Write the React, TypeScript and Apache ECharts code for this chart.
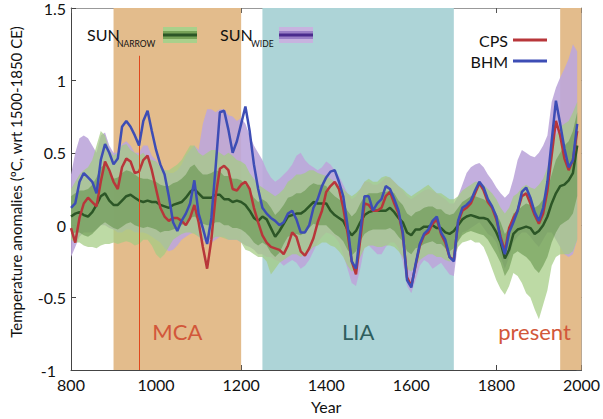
import React, { useEffect, useRef } from "react";
import * as echarts from "echarts";

// sample years (10-year steps, 800..1990)
const years: number[] = Array.from({ length: 120 }, (_, i) => 800 + i * 10);

const bhm = [
  0.12, 0.15, 0.30, 0.36, 0.33, 0.30, 0.22, 0.45, 0.56, 0.50,
  0.42, 0.46, 0.68, 0.72, 0.68, 0.62, 0.55, 0.72, 0.79, 0.65,
  0.52, 0.42, 0.35, 0.20, 0.02, -0.04, 0.03, 0.08, 0.15, 0.31,
  0.08, -0.02, -0.13, 0.05, 0.40, 0.78, 0.79, 0.66, 0.50, 0.58,
  0.70, 0.82, 0.65, 0.42, 0.25, 0.12, 0.08, 0.05, 0.03, 0.00,
  0.02, 0.08, 0.10, 0.04, -0.05, -0.05, 0.00, 0.12, 0.18, 0.27,
  0.33, 0.37, 0.38, 0.30, 0.20, 0.00, -0.25, -0.30, -0.05, 0.20,
  0.20, 0.10, 0.15, 0.18, 0.27, 0.25, 0.18, 0.10, -0.05, -0.38,
  -0.43, -0.27, -0.13, -0.06, -0.03, 0.03, 0.06, -0.05, -0.10, -0.22,
  -0.25, 0.03, 0.12, 0.14, 0.17, 0.24, 0.30, 0.26, 0.18, 0.13,
  0.06, -0.10, -0.20, -0.05, 0.02, 0.10, 0.23, 0.26, 0.19, 0.09,
  0.03, 0.12, 0.30, 0.58, 0.86, 0.70, 0.53, 0.40, 0.45, 0.70,
];

const cps = [
  -0.02, -0.12, 0.05, 0.15, 0.19, 0.16, 0.13, 0.30, 0.44, 0.38,
  0.30, 0.25, 0.40, 0.46, 0.44, 0.36, 0.37, 0.45, 0.48, 0.38,
  0.25, 0.12, 0.06, 0.03, 0.05, 0.05, 0.03, 0.00, 0.05, 0.14,
  0.02, -0.15, -0.30, -0.10, 0.20, 0.39, 0.41, 0.38, 0.25, 0.24,
  0.28, 0.30, 0.25, 0.12, 0.02, -0.07, -0.12, -0.15, -0.16, -0.17,
  -0.20, -0.14, -0.05, -0.08, -0.18, -0.21, -0.16, -0.09, 0.02, 0.10,
  0.23, 0.27, 0.30, 0.25, 0.12, -0.05, -0.25, -0.34, -0.10, 0.15,
  0.14, 0.10, 0.10, 0.12, 0.20, 0.23, 0.15, 0.08, -0.06, -0.36,
  -0.42, -0.28, -0.14, -0.07, -0.05, 0.01, 0.04, -0.06, -0.12, -0.22,
  -0.24, 0.02, 0.10, 0.12, 0.15, 0.22, 0.29, 0.24, 0.16, 0.12,
  0.04, -0.08, -0.18, -0.02, 0.05, 0.10, 0.20, 0.22, 0.15, 0.07,
  0.01, 0.08, 0.24, 0.48, 0.72, 0.62, 0.46, 0.38, 0.45, 0.65,
];

const sunNarrow = [
  0.06, 0.08, 0.09, 0.07, 0.06, 0.09, 0.14, 0.20, 0.22, 0.17,
  0.14, 0.14, 0.17, 0.20, 0.21, 0.19, 0.17, 0.16, 0.17, 0.16,
  0.16, 0.14, 0.13, 0.12, 0.14, 0.15, 0.16, 0.19, 0.23, 0.25,
  0.22, 0.19, 0.19, 0.19, 0.21, 0.21, 0.18, 0.18, 0.16, 0.17,
  0.16, 0.14, 0.10, 0.05, 0.03, 0.06, 0.04, -0.02, -0.08, -0.04,
  0.01, 0.06, 0.07, 0.08, 0.08, 0.10, 0.13, 0.16, 0.15, 0.15,
  0.15, 0.10, 0.07, 0.05, 0.03, -0.03, -0.07, -0.04, 0.02, 0.07,
  0.09, 0.10, 0.10, 0.10, 0.10, 0.12, 0.09, 0.05, 0.02, -0.05,
  -0.07, -0.03, -0.03, -0.01, -0.01, 0.00, -0.02, -0.02, -0.05, -0.06,
  -0.04, 0.00, 0.04, 0.06, 0.07, 0.06, 0.05, 0.05, 0.04, 0.00,
  -0.05, -0.12, -0.23, -0.17, -0.06, -0.03, -0.02, -0.01, -0.02, -0.06,
  -0.04, 0.00, 0.06, 0.15, 0.22, 0.27, 0.28, 0.31, 0.36, 0.55,
];

// SUN narrow ensemble: outer (light) band
const narrowHi = [
  0.25, 0.30, 0.35, 0.38, 0.40, 0.45, 0.55, 0.65, 0.62, 0.52,
  0.48, 0.50, 0.55, 0.56, 0.52, 0.50, 0.48, 0.50, 0.46, 0.45,
  0.44, 0.40, 0.38, 0.38, 0.40, 0.42, 0.45, 0.50, 0.55, 0.55,
  0.50, 0.48, 0.50, 0.52, 0.52, 0.50, 0.48, 0.50, 0.48, 0.45,
  0.44, 0.42, 0.36, 0.32, 0.28, 0.26, 0.24, 0.22, 0.20, 0.22,
  0.25, 0.30, 0.32, 0.35, 0.35, 0.36, 0.38, 0.38, 0.36, 0.35,
  0.34, 0.32, 0.30, 0.28, 0.25, 0.22, 0.20, 0.22, 0.25, 0.30,
  0.32, 0.30, 0.30, 0.33, 0.34, 0.33, 0.30, 0.27, 0.25, 0.22,
  0.20, 0.22, 0.24, 0.26, 0.28, 0.25, 0.22, 0.22, 0.20, 0.18,
  0.18, 0.20, 0.24, 0.26, 0.28, 0.30, 0.30, 0.28, 0.25, 0.22,
  0.18, 0.12, 0.08, 0.12, 0.20, 0.22, 0.26, 0.28, 0.26, 0.25,
  0.28, 0.32, 0.40, 0.50, 0.62, 0.68, 0.70, 0.72, 0.78, 0.85,
];
const narrowLo = [
  -0.10, -0.12, -0.12, -0.14, -0.15, -0.15, -0.16, -0.14, -0.13, -0.13,
  -0.12, -0.13, -0.12, -0.11, -0.12, -0.14, -0.13, -0.10, -0.10, -0.14,
  -0.20, -0.23, -0.20, -0.15, -0.10, -0.08, -0.06, -0.05, -0.05, -0.06,
  -0.08, -0.10, -0.10, -0.10, -0.08, -0.08, -0.09, -0.10, -0.10, -0.10,
  -0.12, -0.17, -0.18, -0.20, -0.22, -0.22, -0.25, -0.34, -0.30, -0.26,
  -0.24, -0.22, -0.20, -0.20, -0.22, -0.20, -0.18, -0.15, -0.14, -0.12,
  -0.12, -0.14, -0.15, -0.18, -0.22, -0.28, -0.32, -0.30, -0.22, -0.16,
  -0.14, -0.14, -0.15, -0.15, -0.14, -0.14, -0.15, -0.18, -0.22, -0.30,
  -0.32, -0.28, -0.24, -0.22, -0.20, -0.20, -0.22, -0.22, -0.24, -0.25,
  -0.22, -0.15, -0.12, -0.11, -0.10, -0.12, -0.12, -0.15, -0.22, -0.30,
  -0.38, -0.44, -0.48, -0.42, -0.33, -0.35, -0.40, -0.47, -0.50, -0.58,
  -0.65, -0.55, -0.45, -0.28, -0.22, -0.20, -0.20, -0.20, -0.18, -0.10,
];
// SUN narrow ensemble: inner (darker) band
const narrowInHi = [
  0.20, 0.22, 0.24, 0.24, 0.25, 0.28, 0.33, 0.40, 0.42, 0.36,
  0.32, 0.33, 0.36, 0.38, 0.37, 0.35, 0.33, 0.32, 0.32, 0.31,
  0.30, 0.28, 0.27, 0.27, 0.29, 0.30, 0.32, 0.35, 0.40, 0.42,
  0.38, 0.35, 0.35, 0.36, 0.38, 0.37, 0.34, 0.34, 0.32, 0.32,
  0.31, 0.28, 0.24, 0.19, 0.16, 0.18, 0.16, 0.12, 0.07, 0.10,
  0.14, 0.19, 0.20, 0.22, 0.22, 0.24, 0.27, 0.29, 0.28, 0.28,
  0.27, 0.23, 0.20, 0.18, 0.16, 0.10, 0.06, 0.09, 0.15, 0.20,
  0.22, 0.22, 0.22, 0.23, 0.23, 0.24, 0.22, 0.17, 0.14, 0.08,
  0.06, 0.09, 0.10, 0.12, 0.13, 0.13, 0.11, 0.11, 0.08, 0.07,
  0.08, 0.12, 0.16, 0.18, 0.20, 0.20, 0.19, 0.18, 0.16, 0.12,
  0.08, 0.02, -0.06, -0.02, 0.08, 0.10, 0.13, 0.15, 0.14, 0.12,
  0.14, 0.18, 0.25, 0.35, 0.45, 0.50, 0.55, 0.58, 0.65, 0.78,
];
const narrowInLo = [
  -0.06, -0.05, -0.05, -0.07, -0.08, -0.06, -0.03, 0.00, 0.02, 0.00,
  -0.02, -0.03, -0.01, 0.01, 0.02, 0.00, -0.01, -0.02, -0.01, -0.02,
  -0.03, -0.05, -0.04, -0.04, -0.03, -0.02, 0.00, 0.02, 0.05, 0.06,
  0.04, 0.01, 0.00, 0.00, 0.02, 0.02, 0.00, 0.00, -0.02, -0.02,
  -0.03, -0.05, -0.08, -0.12, -0.14, -0.12, -0.14, -0.19, -0.22, -0.19,
  -0.13, -0.08, -0.07, -0.06, -0.07, -0.05, -0.02, 0.01, 0.00, 0.00,
  0.00, -0.03, -0.06, -0.08, -0.11, -0.17, -0.21, -0.18, -0.11, -0.06,
  -0.04, -0.03, -0.03, -0.03, -0.03, -0.02, -0.04, -0.08, -0.11, -0.18,
  -0.20, -0.16, -0.15, -0.13, -0.12, -0.11, -0.13, -0.13, -0.16, -0.18,
  -0.16, -0.11, -0.07, -0.05, -0.04, -0.05, -0.06, -0.07, -0.10, -0.15,
  -0.20, -0.26, -0.35, -0.30, -0.20, -0.18, -0.20, -0.22, -0.25, -0.30,
  -0.33, -0.28, -0.22, -0.12, -0.05, 0.00, 0.02, 0.04, 0.08, 0.20,
];
// SUN wide ensemble band
const wideHi = [
  0.35, 0.50, 0.60, 0.62, 0.60, 0.55, 0.50, 0.62, 0.64, 0.55,
  0.50, 0.50, 0.56, 0.58, 0.55, 0.50, 0.50, 0.55, 0.55, 0.48,
  0.45, 0.40, 0.38, 0.36, 0.36, 0.38, 0.42, 0.48, 0.52, 0.55,
  0.52, 0.70, 0.80, 0.80, 0.78, 0.80, 0.80, 0.76, 0.75, 0.72,
  0.74, 0.70, 0.62, 0.55, 0.50, 0.45, 0.38, 0.33, 0.30, 0.32,
  0.35, 0.38, 0.42, 0.48, 0.50, 0.45, 0.42, 0.40, 0.38, 0.40,
  0.44, 0.42, 0.38, 0.34, 0.28, 0.22, 0.18, 0.20, 0.25, 0.30,
  0.30, 0.28, 0.28, 0.30, 0.33, 0.33, 0.30, 0.27, 0.24, 0.20,
  0.18, 0.20, 0.22, 0.24, 0.25, 0.24, 0.22, 0.20, 0.18, 0.15,
  0.15, 0.20, 0.28, 0.36, 0.40, 0.42, 0.43, 0.40, 0.35, 0.31,
  0.26, 0.22, 0.19, 0.22, 0.32, 0.45, 0.52, 0.50, 0.48, 0.47,
  0.50, 0.55, 0.62, 0.85, 0.95, 1.02, 1.08, 1.15, 1.25, 1.20,
];
const wideLo = [
  -0.22, -0.15, -0.08, -0.05, -0.05, -0.05, -0.03, 0.00, 0.00, -0.02,
  -0.03, -0.05, -0.05, -0.03, -0.03, -0.05, -0.05, -0.05, -0.06, -0.08,
  -0.10, -0.12, -0.16, -0.18, -0.17, -0.14, -0.10, -0.08, -0.06, -0.05,
  -0.08, -0.10, -0.13, -0.12, -0.10, -0.08, -0.08, -0.10, -0.10, -0.10,
  -0.12, -0.14, -0.15, -0.17, -0.20, -0.20, -0.22, -0.22, -0.24, -0.25,
  -0.28, -0.26, -0.24, -0.26, -0.30, -0.28, -0.24, -0.18, -0.12, -0.08,
  -0.05, -0.06, -0.08, -0.12, -0.20, -0.30, -0.40, -0.42, -0.30, -0.15,
  -0.14, -0.17, -0.20, -0.20, -0.15, -0.12, -0.12, -0.16, -0.25, -0.42,
  -0.47, -0.38, -0.28, -0.24, -0.26, -0.30, -0.28, -0.26, -0.30, -0.34,
  -0.35, -0.12, -0.05, -0.04, -0.02, 0.00, 0.02, -0.02, -0.06, -0.08,
  -0.12, -0.22, -0.30, -0.22, -0.12, -0.08, -0.05, -0.05, -0.08, -0.12,
  -0.15, -0.10, -0.05, -0.05, -0.10, -0.15, -0.20, -0.22, -0.20, -0.10,
];

const xTicks = { min: 800, max: 2000, step: 200 };
const yTicks = { min: -1, max: 1.5, step: 0.5 };
const periods = [
  { name: "MCA", from: 900, to: 1200 },
  { name: "LIA", from: 1250, to: 1700 },
  { name: "present", from: 1950, to: 2000 },
];
const markerYear = 961;
const markerTop = 1.17;

const FONT = "Lato";

function pairs(vals: number[]) {
  return years.map((y, i) => [y, vals[i]]);
}

// a shaded band drawn as one polygon through the axes' own scales
function band(id: string, lo: number[], hi: number[], color: string, opacity: number) {
  return {
    type: "custom",
    name: id,
    silent: true,
    z: 2,
    data: years.map((y, i) => [y, lo[i], hi[i]]),
    encode: { x: 0, y: [1, 2] },
    renderItem: (params: any, api: any) => {
      if (params.dataIndex !== 0) return null;
      const top = years.map((y, i) => api.coord([y, hi[i]]));
      const bottom = years.map((y, i) => api.coord([y, lo[i]])).reverse();
      return {
        type: "polygon",
        shape: { points: top.concat(bottom) },
        style: { fill: color, opacity },
      };
    },
  };
}

export default function App() {
  const ref = useRef<HTMLDivElement>(null);
  useEffect(() => {
    document.body.style.margin = "0";
    if (!ref.current) return;
    const chart = echarts.init(ref.current, null, { renderer: "svg" });

    const periodColors: Record<string, string> = { MCA: "#e3bc8c", LIA: "#add4d7", present: "#e3bc8c" };
    const periodText: Record<string, string> = { MCA: "#d2573a", LIA: "#2f5e5e", present: "#d2573a" };

    const axisCommonX = {
      type: "value",
      min: xTicks.min,
      max: xTicks.max,
      interval: xTicks.step,
      splitLine: { show: false },
    };
    const axisCommonY = {
      type: "value",
      min: yTicks.min,
      max: yTicks.max,
      interval: yTicks.step,
      splitLine: { show: false },
    };

    const option: any = {
      animation: false,
      textStyle: { fontFamily: FONT },
      grid: { left: 64, right: 15, top: 7, bottom: 43 },
      legend: {
        data: [
          { name: "CPS", icon: "rect" },
          { name: "BHM", icon: "rect" },
        ],
        left: 463,
        top: 27,
        orient: "vertical",
        align: "right",
        itemWidth: 34,
        itemHeight: 3,
        itemGap: 5,
        textStyle: { fontSize: 16, lineHeight: 16, fontFamily: FONT, color: "#111", width: 40 },
        selectedMode: false,
      },
      xAxis: [
        {
          ...axisCommonX,
          position: "bottom",
          axisLine: { show: true, onZero: false, lineStyle: { color: "#444", width: 1 } },
          axisTick: { show: true, inside: true, length: 5, lineStyle: { color: "#444" } },
          axisLabel: { color: "#111", fontSize: 16, fontFamily: FONT, margin: 6, formatter: (v: number) => String(v) },
          name: "Year",
          nameLocation: "middle",
          nameGap: 28,
          nameTextStyle: { color: "#111", fontSize: 16, fontFamily: FONT },
        },
        {
          ...axisCommonX,
          position: "top",
          axisLine: { show: true, onZero: false, lineStyle: { color: "#999", width: 1 } },
          axisTick: { show: true, inside: true, length: 5, lineStyle: { color: "#555" } },
          axisLabel: { show: false },
        },
      ],
      yAxis: [
        {
          ...axisCommonY,
          position: "left",
          axisLine: { show: true, onZero: false, lineStyle: { color: "#444", width: 1 } },
          axisTick: { show: true, inside: true, length: 5, lineStyle: { color: "#444" } },
          axisLabel: {
            color: "#111",
            fontSize: 16,
            fontFamily: FONT,
            margin: 5,
            formatter: (v: number) => (v === yTicks.min ? "{s|" + v + "}" : String(v)),
            rich: { s: { fontSize: 16, fontFamily: FONT, color: "#111", padding: [0, 10, 0, 0] } },
          },
          name: "Temperature anomalies (ºC, wrt 1500-1850 CE)",
          nameLocation: "middle",
          nameGap: 48,
          nameTextStyle: { color: "#111", fontSize: 15, fontFamily: FONT, padding: [0, 0, 0, 14] },
        },
        {
          ...axisCommonY,
          position: "right",
          axisLine: { show: true, onZero: false, lineStyle: { color: "#999", width: 1 } },
          axisTick: { show: true, inside: true, length: 5, lineStyle: { color: "#555" } },
          axisLabel: { show: false },
        },
      ],
      series: [
        band("wide", wideLo, wideHi, "#bda6da", 0.9),
        band("narrow", narrowLo, narrowHi, "#a3cc82", 0.72),
        band("narrowIn", narrowInLo, narrowInHi, "#5f8f45", 0.55),
        {
          type: "line",
          name: "SUN",
          data: pairs(sunNarrow),
          symbol: "none",
          silent: true,
          lineStyle: { color: "#2c5626", width: 2.5 },
          z: 3,
          markArea: {
            silent: true,
            data: periods.map((p) => [
              {
                name: p.name,
                xAxis: p.from,
                itemStyle: { color: periodColors[p.name], opacity: 1 },
                label: {
                  show: true,
                  position: "insideBottom",
                  distance: 28,
                  color: periodText[p.name],
                  fontSize: 22,
                  fontFamily: FONT,
                  align: p.name === "present" ? "right" : "center",
                },
              },
              { xAxis: p.to },
            ]),
          },
          markLine: {
            silent: true,
            symbol: ["none", "none"],
            label: { show: false },
            lineStyle: { color: "#e0481c", width: 1, type: "solid" },
            data: [[{ coord: [markerYear, yTicks.min] }, { coord: [markerYear, markerTop] }]],
          },
        },
        {
          type: "line",
          name: "CPS",
          data: pairs(cps),
          symbol: "none",
          silent: true,
          color: "#b8363a",
          lineStyle: { color: "#b8363a", width: 2.5 },
          z: 4,
        },
        {
          type: "line",
          name: "BHM",
          data: pairs(bhm),
          symbol: "none",
          silent: true,
          color: "#3d4db5",
          lineStyle: { color: "#3d4db5", width: 2.5 },
          z: 5,
        },
      ],
      graphic: [
        { type: "text", z: 100, left: 87, top: 26, style: { text: "SUN", fontSize: 16, fontFamily: FONT, fill: "#111" } },
        { type: "text", z: 100, left: 117, top: 39, style: { text: "NARROW", fontSize: 8.5, fontFamily: FONT, fill: "#111" } },
        { type: "rect", z: 100, shape: { x: 163, y: 27, width: 34, height: 16 }, style: { fill: "#a9d08b" } },
        { type: "rect", z: 100, shape: { x: 163, y: 31, width: 34, height: 8 }, style: { fill: "#76a257" } },
        { type: "rect", z: 100, shape: { x: 163, y: 33.5, width: 34, height: 3 }, style: { fill: "#2c5626" } },
        { type: "text", z: 100, left: 220, top: 26, style: { text: "SUN", fontSize: 16, fontFamily: FONT, fill: "#111" } },
        { type: "text", z: 100, left: 251, top: 39, style: { text: "WIDE", fontSize: 8.5, fontFamily: FONT, fill: "#111" } },
        { type: "rect", z: 100, shape: { x: 279, y: 27, width: 34, height: 16 }, style: { fill: "#c7b3df" } },
        { type: "rect", z: 100, shape: { x: 279, y: 31, width: 34, height: 8 }, style: { fill: "#9a80c6" } },
        { type: "rect", z: 100, shape: { x: 279, y: 33.5, width: 34, height: 3 }, style: { fill: "#4a2c8c" } },
      ],
    };
    chart.setOption(option);
    return () => chart.dispose();
  }, []);
  return <div ref={ref} style={{ width: 603, height: 419 }} />;
}
